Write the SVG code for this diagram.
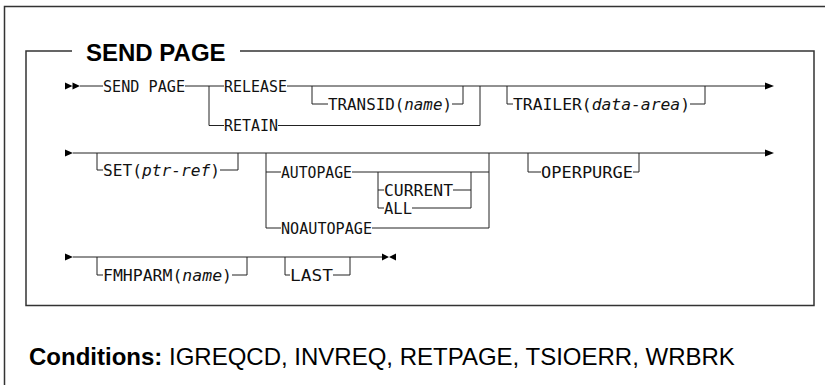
<svg xmlns="http://www.w3.org/2000/svg" width="825" height="385" viewBox="0 0 825 385">
<style>
  .ln { stroke: #222; stroke-width: 1; fill: none; }
  .frame { stroke: #333; stroke-width: 1.5; fill: none; }
  .ah { fill: #000; }
  .sx { font-family: "DejaVu Sans Mono", "Liberation Mono", monospace; font-size: 15px; fill: #111; }
  .it { font-style: italic; }
  .title { font-family: "Liberation Sans", Arial, sans-serif; font-size: 24px; font-weight: bold; fill: #000; }
  .cond { font-family: "Liberation Sans", Arial, sans-serif; font-size: 24px; fill: #000; }
</style>
<rect x="0" y="0" width="825" height="385" fill="#fff"/>
<path class="frame" d="M4.5,390 V6.5 H830"/>
<g id="box">
  <path class="frame" d="M72,51 H26 V305.5 H814 V51 H240"/>
  <text class="title" x="86" y="61">SEND PAGE</text>
</g>
<g id="connectors">
  <!-- row 1 -->
  <path class="ln" d="M80,86 H103"/>
  <path class="ln" d="M185,86 H224"/>
  <path class="ln" d="M209,86 V125.5 H224"/>
  <path class="ln" d="M287,86 H765"/>
  <path class="ln" d="M278,125.5 H480 V86"/>
  <path class="ln" d="M312,86 V104 H328"/>
  <path class="ln" d="M452,104 H463 V86"/>
  <path class="ln" d="M507,86 V104 H513"/>
  <path class="ln" d="M690,104 H705 V86"/>
  <path class="ah" d="M65,82.5 L72.5,86 L65,89.5 Z M72.5,82.5 L80,86 L72.5,89.5 Z"/>
  <path class="ah" d="M765,82.5 L774,86 L765,89.5 Z"/>
  <!-- row 2 -->
  <path class="ln" d="M73,153 H765"/>
  <path class="ah" d="M65,149.5 L73,153 L65,156.5 Z"/>
  <path class="ah" d="M765,149.5 L774,153 L765,156.5 Z"/>
  <path class="ln" d="M97,153 V170 H103"/>
  <path class="ln" d="M220,170 H238 V153"/>
  <path class="ln" d="M266,153 V228 H281"/>
  <path class="ln" d="M266,172 H281"/>
  <path class="ln" d="M352,172 H489"/>
  <path class="ln" d="M372,228 H489 V153"/>
  <path class="ln" d="M378,172 V208 H384"/>
  <path class="ln" d="M378,190 H384"/>
  <path class="ln" d="M453,190 H471"/>
  <path class="ln" d="M412,208 H471 V172"/>
  <path class="ln" d="M528,153 V172 H541"/>
  <path class="ln" d="M633,172 H639 V153"/>
  <!-- row 3 -->
  <path class="ln" d="M73,257 H382"/>
  <path class="ah" d="M65,253.5 L73,257 L65,260.5 Z"/>
  <path class="ah" d="M382,253.5 L389,257 L382,260.5 Z M396,253.5 L389,257 L396,260.5 Z"/>
  <path class="ln" d="M97,257 V275 H103"/>
  <path class="ln" d="M232,275 H247 V257"/>
  <path class="ln" d="M285,257 V275 H290"/>
  <path class="ln" d="M333,275 H350 V257"/>
</g>
<g id="n-sendpage"><text class="sx" x="103" y="91.5" textLength="82" lengthAdjust="spacingAndGlyphs">SEND PAGE</text></g>
<g id="n-release"><text class="sx" x="224" y="91.5" textLength="63" lengthAdjust="spacingAndGlyphs">RELEASE</text></g>
<g id="n-retain"><text class="sx" x="224" y="131" textLength="54" lengthAdjust="spacingAndGlyphs">RETAIN</text></g>
<g id="n-transid"><text class="sx" x="328" y="109.5" textLength="124" lengthAdjust="spacingAndGlyphs">TRANSID(<tspan class="it">name</tspan>)</text></g>
<g id="n-trailer"><text class="sx" x="513" y="109.5" textLength="177" lengthAdjust="spacingAndGlyphs">TRAILER(<tspan class="it">data-area</tspan>)</text></g>
<g id="n-set"><text class="sx" x="103" y="175.5" textLength="117" lengthAdjust="spacingAndGlyphs">SET(<tspan class="it">ptr-ref</tspan>)</text></g>
<g id="n-autopage"><text class="sx" x="281" y="177.5" textLength="71" lengthAdjust="spacingAndGlyphs">AUTOPAGE</text></g>
<g id="n-current"><text class="sx" x="384" y="195.5" textLength="69" lengthAdjust="spacingAndGlyphs">CURRENT</text></g>
<g id="n-all"><text class="sx" x="384" y="213.5" textLength="28" lengthAdjust="spacingAndGlyphs">ALL</text></g>
<g id="n-noautopage"><text class="sx" x="281" y="233.5" textLength="91" lengthAdjust="spacingAndGlyphs">NOAUTOPAGE</text></g>
<g id="n-operpurge"><text class="sx" x="541" y="177.5" textLength="92" lengthAdjust="spacingAndGlyphs">OPERPURGE</text></g>
<g id="n-fmhparm"><text class="sx" x="103" y="280.5" textLength="129" lengthAdjust="spacingAndGlyphs">FMHPARM(<tspan class="it">name</tspan>)</text></g>
<g id="n-last"><text class="sx" x="290" y="280.5" textLength="43" lengthAdjust="spacingAndGlyphs">LAST</text></g>
<g id="conditions"><text class="cond" x="29" y="365"><tspan font-weight="bold">Conditions:</tspan> IGREQCD, INVREQ, RETPAGE, TSIOERR, WRBRK</text></g>
</svg>
